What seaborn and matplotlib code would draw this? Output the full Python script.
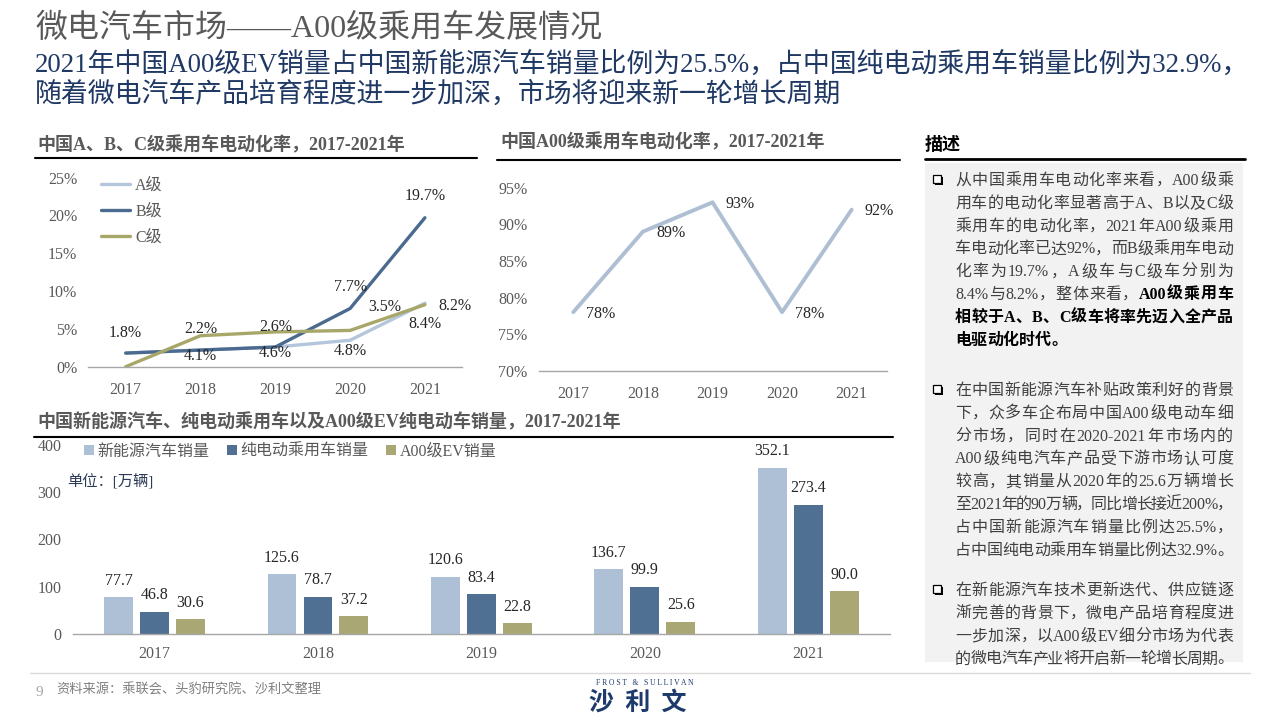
import re
import numpy as np
import pandas as pd
import matplotlib
matplotlib.use('Agg')
import matplotlib.pyplot as plt
import seaborn as sns
from matplotlib.patches import Rectangle, Patch
from matplotlib.lines import Line2D

sns.set_theme(style='white')
FAM = ['Liberation Serif', 'Noto Sans CJK SC']
plt.rcParams['font.family'] = FAM
plt.rcParams['axes.unicode_minus'] = False

# ---- data ----
years = [2017, 2018, 2019, 2020, 2021]
# A、B、C级乘用车电动化率 (%)
rate_a = [1.8, 2.2, 2.6, 3.5, 8.4]
rate_b = [1.8, 2.2, 2.6, 7.7, 19.7]
rate_c = [0.0, 4.1, 4.6, 4.8, 8.2]
# A00级乘用车电动化率 (%)
rate_a00 = [78, 89, 93, 78, 92]
# 销量 (万辆)
nev_sales = [77.7, 125.6, 120.6, 136.7, 352.1]
bev_sales = [46.8, 78.7, 83.4, 99.9, 273.4]
a00_sales = [30.6, 37.2, 22.8, 25.6, 90.0]
sales_names = ['新能源汽车销量', '纯电动乘用车销量', 'A00级EV销量']

# label placement in the left chart: (series, year index, dx px, dy px)
abc_labels = [('B级', 0, 0, 20), ('B级', 1, 0, 21), ('B级', 2, 0, 20),
              ('B级', 3, 0, 21.5), ('B级', 4, 0, 22), ('A级', 3, 35, 33.5),
              ('A级', 4, 0, -21), ('C级', 1, 0, -20), ('C级', 2, 0, -21),
              ('C级', 3, 0, -21), ('C级', 4, 30, -1)]

W, H = 1280, 720
fig = plt.figure(figsize=(12.8, 7.2), dpi=100)
fig.patch.set_facecolor('white')
renderer = fig.canvas.get_renderer()


def fy(y):
    return 1 - y / H


def axes_px(left, top, right, bottom):
    return fig.add_axes([left / W, 1 - bottom / H, (right - left) / W, (bottom - top) / H])


def hline(x0, x1, y, color='black', lw=1.5):
    fig.add_artist(Line2D([x0 / W, x1 / W], [fy(y), fy(y)], color=color, lw=lw,
                          transform=fig.transFigure))


def style_axes(ax):
    for s in ['top', 'right', 'left']:
        ax.spines[s].set_visible(False)
    ax.spines['bottom'].set_color('#a6a6a6')
    ax.spines['bottom'].set_linewidth(1)
    ax.set_xlabel('')
    ax.set_ylabel('')
    ax.tick_params(length=0, labelsize=11.5, colors='#595959')
    ax.tick_params(axis='x', pad=11)
    ax.tick_params(axis='y', pad=8)
    ax.set_facecolor('none')


# ---- header ----
fig.text(35 / W, fy(29), '微电汽车市场——A00级乘用车发展情况', fontsize=23,
         color='#595959', va='center', ha='left')
fig.text(35 / W, fy(65), '2021年中国A00级EV销量占中国新能源汽车销量比例为25.5%，占中国纯电动乘用车销量比例为32.9%，',
         fontsize=19.4, color='#1f3864', va='center', ha='left')
fig.text(35 / W, fy(95), '随着微电汽车产品培育程度进一步加深，市场将迎来新一轮增长周期',
         fontsize=19.4, color='#1f3864', va='center', ha='left')

# ---- chart titles ----
fig.text(37 / W, fy(145), '中国A、B、C级乘用车电动化率，2017-2021年', fontsize=13,
         fontweight='bold', color='#595959', va='center')
hline(35, 477, 158)
fig.text(500 / W, fy(142), '中国A00级乘用车电动化率，2017-2021年', fontsize=13,
         fontweight='bold', color='#595959', va='center')
hline(497, 900, 160)
fig.text(37 / W, fy(422), '中国新能源汽车、纯电动乘用车以及A00级EV纯电动车销量，2017-2021年',
         fontsize=13, fontweight='bold', color='#595959', va='center')
hline(34, 893, 437)

# ---- left chart: A/B/C ----
abc_colors = {'A级': '#b4c6db', 'B级': '#4a6a8f', 'C级': '#a8a76a'}
df_abc = pd.DataFrame({'year': years * 3,
                       'rate': rate_a + rate_b + rate_c,
                       'cls': ['A级'] * 5 + ['B级'] * 5 + ['C级'] * 5})
ax1 = axes_px(88.3, 177.7, 462.3, 366.7)
sns.lineplot(data=df_abc, x='year', y='rate', hue='cls', palette=abc_colors,
             linewidth=2.4, ax=ax1, legend=False)
ax1.set_xlim(2016.5, 2021.5)
ax1.set_ylim(0, 25)
ax1.set_xticks(years, [str(y) for y in years])
ax1.set_yticks(range(0, 26, 5), [f'{v}%' for v in range(0, 26, 5)])
style_axes(ax1)
series_map = {'A级': rate_a, 'B级': rate_b, 'C级': rate_c}
for name, i, dx, dy in abc_labels:
    v = series_map[name][i]
    ax1.annotate(f'{v:.1f}%', (years[i], v), xytext=(dx * 0.72, dy * 0.72),
                 textcoords='offset points', ha='center', va='center',
                 fontsize=11.5, color='#262626')
handles = [Line2D([], [], color=c, lw=2.4) for c in abc_colors.values()]
ax1.legend(handles, list(abc_colors.keys()), loc='upper left',
           bbox_to_anchor=(101 / W, fy(178)), bbox_transform=fig.transFigure,
           frameon=False, fontsize=11.5, handlelength=1.8, handletextpad=0.35,
           labelspacing=0.62, borderpad=0, borderaxespad=0, labelcolor='#595959')

# ---- middle chart: A00 ----
ax2 = axes_px(538.5, 187.7, 886.5, 370.7)
df_a00 = pd.DataFrame({'year': years, 'rate': rate_a00})
sns.lineplot(data=df_a00, x='year', y='rate', color='#aebfd3', linewidth=2.8, ax=ax2)
ax2.set_xlim(2016.5, 2021.5)
ax2.set_ylim(70, 95)
ax2.set_xticks(years, [str(y) for y in years])
ax2.set_yticks(range(70, 96, 5), [f'{v}%' for v in range(70, 96, 5)])
style_axes(ax2)
for yr, v in zip(years, rate_a00):
    ax2.annotate(f'{v}%', (yr, v), xytext=(9.5, -1), textcoords='offset points',
                 ha='left', va='center', fontsize=11.5, color='#262626')

# ---- bottom chart: sales ----
bar_colors = ['#adc0d6', '#4f6f93', '#a9a874']
df_sales = pd.DataFrame({'year': [str(y) for y in years] * 3,
                         'sales': nev_sales + bev_sales + a00_sales,
                         'kind': [sales_names[0]] * 5 + [sales_names[1]] * 5 + [sales_names[2]] * 5})
ax3 = axes_px(72.7, 445, 890, 633.7)
sns.barplot(data=df_sales, x='year', y='sales', hue='kind', palette=bar_colors,
            width=0.66, gap=0.2, saturation=1, linewidth=0, ax=ax3, legend=False)
ax3.set_xlim(-0.5, 4.5)
ax3.set_ylim(0, 400)
ax3.set_yticks(range(0, 401, 100))
style_axes(ax3)
ax3.tick_params(axis='x', pad=9)
for cont in ax3.containers:
    ax3.bar_label(cont, fmt='%.1f', padding=6, fontsize=11.5, color='#262626')
bar_handles = [Patch(facecolor=c, edgecolor='none') for c in bar_colors]
ax3.legend(bar_handles, sales_names, loc='upper left', ncol=3,
           bbox_to_anchor=(84 / W, fy(444)), bbox_transform=fig.transFigure,
           frameon=False, fontsize=11.5, handlelength=0.6, handleheight=0.6,
           handletextpad=0.25, columnspacing=1.1, borderpad=0, borderaxespad=0,
           labelcolor='#595959')
fig.text(67 / W, fy(482), '单位：[万辆]', fontsize=11, color='#2b3a55', va='center')

# ---- right panel ----
fig.text(925 / W, fy(145), '描述', fontsize=13, fontweight='bold', color='#000000', va='center')
hline(925, 1245, 159, lw=2)
fig.add_artist(Rectangle((925 / W, fy(662)), (1243 - 925) / W, (662 - 163) / H,
                         facecolor='#f2f2f2', edgecolor='none', transform=fig.transFigure,
                         zorder=0))


def bullet(y):
    fig.add_artist(Rectangle((935 / W, fy(y + 5)), 8 / W, 8 / H, facecolor='black',
                             edgecolor='none', transform=fig.transFigure))
    fig.add_artist(Rectangle((933 / W, fy(y + 3)), 8 / W, 8 / H, facecolor='white',
                             edgecolor='black', lw=0.9, transform=fig.transFigure))


def text_line(y, segs, justify=True, x0=955, x1=1233, size=11.5):
    toks = []
    for s, bold in segs:
        for t in re.findall(r'[A-Za-z0-9.%\-]+|.', s):
            toks.append((t, bold))
    arts = []
    for t, bold in toks:
        arts.append(fig.text(0, fy(y + 5), t, fontsize=size, va='baseline', ha='left',
                             fontweight='bold' if bold else 'normal',
                             color='#000000' if bold else '#404040'))
    widths = [a.get_window_extent(renderer).width for a in arts]
    gap = (x1 - x0 - sum(widths)) / (len(arts) - 1) if justify else 0.0
    x = x0
    for a, w in zip(arts, widths):
        a.set_x(x / W)
        x += w + gap


paras = [
    (180, [[('从中国乘用车电动化率来看，A00级乘', False)],
           [('用车的电动化率显著高于A、B以及C级', False)],
           [('乘用车的电动化率，2021年A00级乘用', False)],
           [('车电动化率已达92%，而B级乘用车电动', False)],
           [('化率为19.7%，A级车与C级车分别为', False)],
           [('8.4%与8.2%，整体来看，', False), ('A00级乘用车', True)],
           [('相较于A、B、C级车将率先迈入全产品', True)],
           [('电驱动化时代。', True)]]),
    (390, [[('在中国新能源汽车补贴政策利好的背景', False)],
           [('下，众多车企布局中国A00级电动车细', False)],
           [('分市场，同时在2020-2021年市场内的', False)],
           [('A00级纯电汽车产品受下游市场认可度', False)],
           [('较高，其销量从2020年的25.6万辆增长', False)],
           [('至2021年的90万辆，同比增长接近200%，', False)],
           [('占中国新能源汽车销量比例达25.5%，', False)],
           [('占中国纯电动乘用车销量比例达32.9%。', False)]]),
    (590, [[('在新能源汽车技术更新迭代、供应链逐', False)],
           [('渐完善的背景下，微电产品培育程度进', False)],
           [('一步加深，以A00级EV细分市场为代表', False)],
           [('的微电汽车产业将开启新一轮增长周期。', False)]]),
]
for y0, lines in paras:
    bullet(y0)
    for k, segs in enumerate(lines):
        last = segs == [('电驱动化时代。', True)]
        text_line(y0 + k * 22.8, segs, justify=not last)

# ---- footer ----
hline(30, 1250, 673, color='#d9d9d9', lw=1)
fig.text(36 / W, fy(693), '9', fontsize=11, color='#a6a6a6', va='center')
fig.text(56 / W, fy(690), '资料来源：乘联会、头豹研究院、沙利文整理', fontsize=9.5,
         color='#7f7f7f', va='center')
fig.text(645 / W, fy(683), 'F R O S T   &   S U L L I V A N', fontsize=5.5,
         color='#1d3a6b', ha='center', va='center')
fig.text(638 / W, fy(703), '沙  利  文', fontsize=18, fontweight='bold',
         family=['Noto Sans CJK SC'], color='#1d3a6b', ha='center', va='center')

fig.savefig('out.png', dpi=100)
